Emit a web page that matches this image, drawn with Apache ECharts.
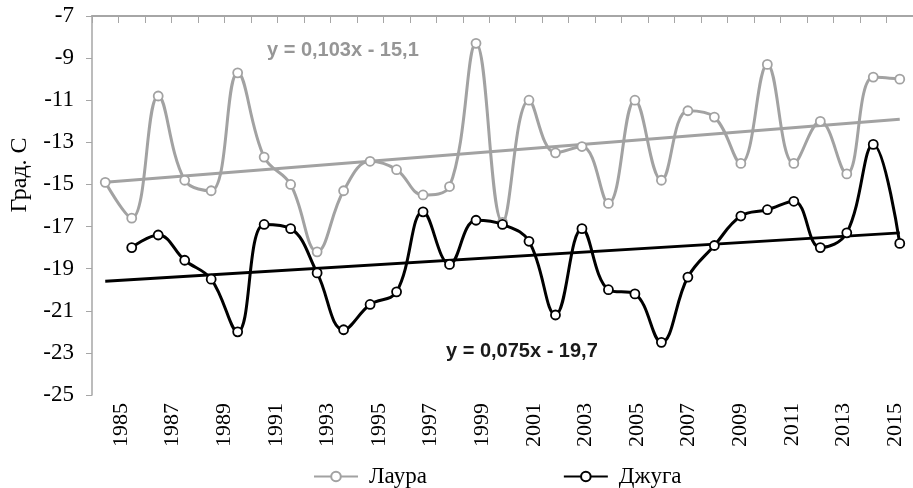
<!DOCTYPE html>
<html>
<head>
<meta charset="utf-8">
<script src="https://cdn.jsdelivr.net/npm/echarts@6/dist/echarts.min.js"></script>
<style>
html,body{margin:0;padding:0;background:#fff;}
#chart{width:913px;height:488px;}
</style>
</head>
<body>
<div id="chart"></div>
<script>
const years = ['1985','1986','1987','1988','1989','1990','1991','1992','1993','1994','1995','1996','1997','1998','1999','2000','2001','2002','2003','2004','2005','2006','2007','2008','2009','2010','2011','2012','2013','2014','2015'];
const laura = [-14.9,-16.6,-10.8,-14.8,-15.3,-9.7,-13.7,-15.0,-18.2,-15.3,-13.9,-14.3,-15.5,-15.1,-8.3,-16.8,-11.0,-13.5,-13.2,-15.9,-11.0,-14.8,-11.5,-11.8,-14.0,-9.3,-14.0,-12.0,-14.5,-9.9,-10.0];
const dzhuga = [null,-18.0,-17.4,-18.6,-19.5,-22.0,-16.9,-17.1,-19.2,-21.9,-20.7,-20.1,-16.3,-18.8,-16.7,-16.9,-17.7,-21.2,-17.1,-20.0,-20.2,-22.5,-19.4,-17.9,-16.5,-16.2,-15.8,-18.0,-17.3,-13.1,-17.8];
const lauraTrend = [-14.9, -11.9];   // trend values at first and last year
const dzhugaTrend = [-19.6, -17.3];
const yTicks = [-25,-23,-21,-19,-17,-15,-13,-11,-9,-7];
const seriesNames = ['Лаура','Джуга'];
const lauraEq = 'y = 0,103x - 15,1';
const dzhugaEq = 'y = 0,075x - 19,7';
const yTitle = 'Град. С';

const GRAY = '#a2a2a2';
const AXIS = '#a6a6a6';
const SERIF = '"Liberation Serif", "DejaVu Serif", serif';
const SANS = '"Liberation Sans", Arial, sans-serif';

const chart = echarts.init(document.getElementById('chart'), null, {renderer:'canvas'});
chart.setOption({
  animation:false,
  backgroundColor:'#fff',
  grid:[
    {left:92, right:0, top:16, bottom:93},
    {left:108, width:800, top:16, bottom:93}
  ],
  xAxis:[
    {type:'category', gridIndex:0, data:years, position:'top', boundaryGap:true,
     axisLine:{show:true, lineStyle:{color:AXIS, width:2}},
     axisTick:{show:true, inside:true, length:7, interval:0, lineStyle:{color:AXIS, width:1}},
     axisLabel:{show:false}, splitLine:{show:false}},
    {type:'category', gridIndex:1, data:years, position:'bottom', boundaryGap:true,
     axisLine:{show:false}, axisTick:{show:false}, splitLine:{show:false},
     axisLabel:{show:true, rotate:90, interval:1, margin:8, color:'#000', fontFamily:SERIF, fontSize:22}}
  ],
  yAxis:[
    {type:'value', gridIndex:0, min:-25, max:-7,
     axisLine:{show:true, lineStyle:{color:AXIS, width:1.5}},
     axisTick:{show:true, length:6, customValues:yTicks, lineStyle:{color:AXIS}},
     axisLabel:{show:true, customValues:yTicks, margin:18, color:'#000', fontFamily:SERIF, fontSize:23},
     splitLine:{show:false}},
    {type:'value', gridIndex:1, min:-25, max:-7, show:false}
  ],
  legend:{
    data:seriesNames, left:308, top:460, itemWidth:44, itemHeight:12, itemGap:136,
    textStyle:{fontFamily:SERIF, fontSize:23, color:'#000', padding:[0,0,0,6]}
  },
  graphic:[
    {type:'text', left:267, top:40, style:{text:lauraEq, fill:'#969696', font:'bold 20px '+SANS}},
    {type:'text', left:446, top:341, style:{text:dzhugaEq, fill:'#1a1a1a', font:'bold 20px '+SANS}},
    {type:'text', x:20, y:175, rotation:Math.PI/2,
     style:{text:yTitle, fill:'#000', font:'24px '+SERIF, align:'center', verticalAlign:'middle'}}
  ],
  series:[
    {name:'trendL', type:'line', xAxisIndex:0, yAxisIndex:0, symbol:'none', silent:true,
     data:[[years[0], lauraTrend[0]], [years[years.length-1], lauraTrend[1]]],
     lineStyle:{color:GRAY, width:3}, z:2},
    {name:'trendD', type:'line', xAxisIndex:0, yAxisIndex:0, symbol:'none', silent:true,
     data:[[years[0], dzhugaTrend[0]], [years[years.length-1], dzhugaTrend[1]]],
     lineStyle:{color:'#000', width:3}, z:2},
    {name:seriesNames[0], type:'line', xAxisIndex:0, yAxisIndex:0, data:laura, smooth:0.4,
     symbol:'circle', symbolSize:9, showAllSymbol:true,
     lineStyle:{color:GRAY, width:3},
     itemStyle:{color:'#fff', borderColor:GRAY, borderWidth:1.8}, z:3},
    {name:seriesNames[1], type:'line', xAxisIndex:0, yAxisIndex:0, data:dzhuga, smooth:0.4,
     symbol:'circle', symbolSize:9, showAllSymbol:true,
     lineStyle:{color:'#000', width:3},
     itemStyle:{color:'#fff', borderColor:'#000', borderWidth:1.8}, z:4}
  ]
});
</script>
</body>
</html>
